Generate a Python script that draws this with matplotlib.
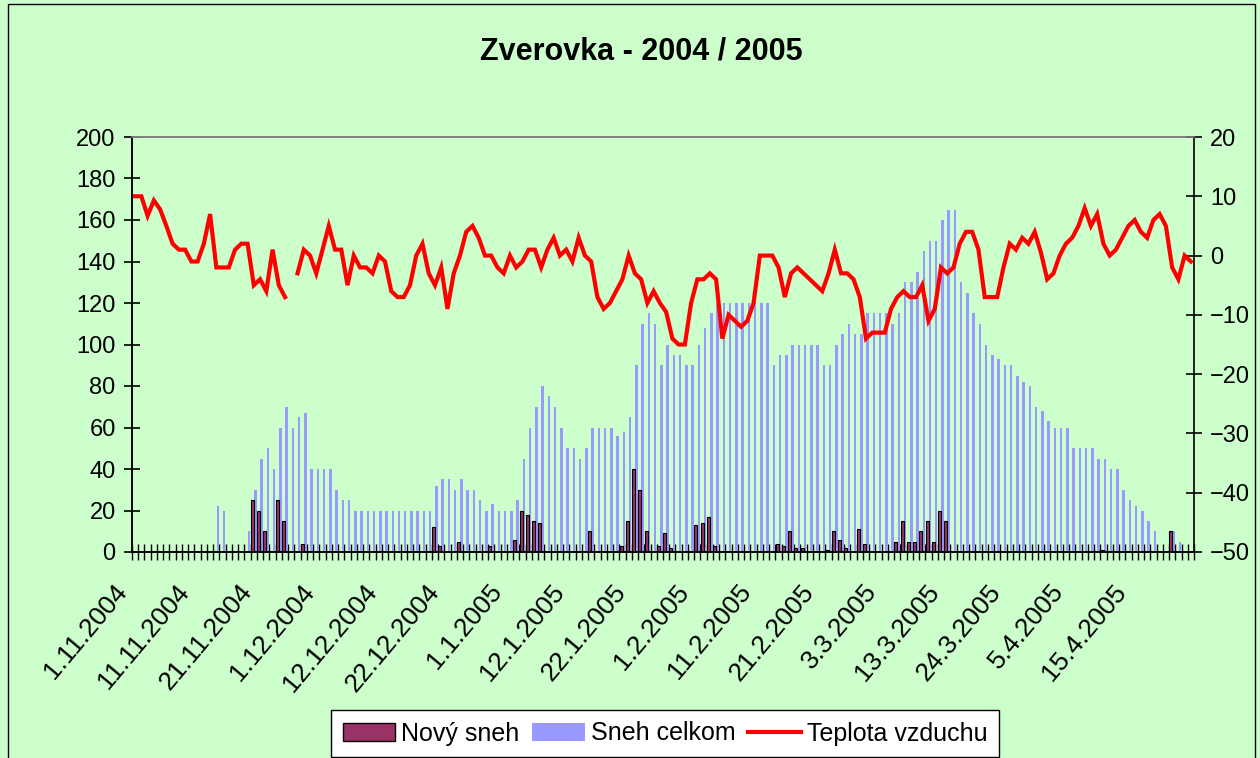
import numpy as np
import matplotlib
matplotlib.use("Agg")
import matplotlib.pyplot as plt
import matplotlib.transforms as mtrans
from matplotlib.patches import Patch, Rectangle
from matplotlib.lines import Line2D

plt.rcParams['font.family'] = ['Liberation Sans', 'DejaVu Sans']

# daily values, 1.11.2004 - end of April 2005 (170 days as in the sheet)
novy_sneh = [0, 0, 0, 0, 0, 0, 0, 0, 0, 0,
             0, 0, 0, 0, 0, 0, 0, 0, 0, 25,
             20, 10, 0, 25, 15, 0, 0, 4, 0, 0,
             0, 0, 0, 0, 0, 0, 0, 0, 0, 0,
             0, 0, 0, 0, 0, 0, 0, 0, 12, 3,
             0, 0, 5, 0, 0, 0, 0, 3, 0, 0,
             0, 6, 20, 18, 15, 14, 0, 0, 0, 0,
             0, 0, 0, 10, 0, 0, 0, 0, 3, 15,
             40, 30, 10, 0, 3, 9, 2, 0, 0, 0,
             13, 14, 17, 3, 0, 0, 0, 0, 0, 0,
             0, 0, 0, 4, 3, 10, 2, 2, 0, 0,
             0, 1, 10, 6, 2, 0, 11, 4, 0, 0,
             0, 0, 5, 15, 5, 5, 10, 15, 5, 20,
             15, 0, 0, 0, 0, 0, 0, 0, 0, 0,
             0, 0, 0, 0, 0, 0, 0, 0, 0, 0,
             0, 0, 0, 0, 0, 1, 0, 0, 0, 0,
             0, 0, 0, 0, 0, 0, 10, 0, 0, 0]

sneh_celkom = [0, 0, 0, 0, 0, 0, 0, 0, 0, 0,
               0, 0, 0, 22, 20, 0, 0, 0, 10, 30,
               45, 50, 40, 60, 70, 60, 65, 67, 40, 40,
               40, 40, 30, 25, 25, 20, 20, 20, 20, 20,
               20, 20, 20, 20, 20, 20, 20, 20, 32, 35,
               35, 30, 35, 30, 30, 25, 20, 23, 20, 20,
               20, 25, 45, 60, 70, 80, 75, 70, 60, 50,
               50, 45, 50, 60, 60, 60, 60, 56, 58, 65,
               90, 110, 115, 110, 90, 100, 95, 95, 90, 90,
               100, 108, 115, 120, 120, 120, 120, 120, 120, 120,
               120, 120, 90, 95, 95, 100, 100, 100, 100, 100,
               90, 90, 100, 105, 110, 105, 105, 115, 115, 115,
               115, 110, 115, 130, 130, 135, 145, 150, 150, 160,
               165, 165, 130, 125, 115, 110, 100, 95, 93, 90,
               90, 85, 82, 80, 70, 68, 63, 60, 60, 60,
               50, 50, 50, 50, 45, 45, 40, 40, 30, 25,
               22, 20, 15, 10, 0, 0, 10, 5, 0, 0]

teplota = [10, 10, 6.7, 9.3, 7.8, 5, 2, 1, 1, -1,
           -1, 2, 7, -2, -2, -2, 1, 2, 2, -5,
           -4, -6, 1, -5, -7, np.nan, -3, 1, 0, -3,
           1, 5, 1, 1, -5, 0, -2, -2, -3, 0,
           -1, -6, -7, -7, -5, 0, 2, -3, -5, -2,
           -9, -3, 0, 4, 5, 3, 0, 0, -2, -3,
           0, -2, -1, 1, 1, -2, 1, 3, 0, 1,
           -1, 3, 0, -1, -7, -9, -8, -6, -4, 0,
           -3, -4, -8, -6, -8, -9.5, -14, -15, -15, -8,
           -4, -4, -3, -4, -14, -10, -11, -12, -11, -8,
           0, 0, 0, -2, -7, -3, -2, -3, -4, -5,
           -6, -3, 1, -3, -3, -4, -7, -14, -13, -13,
           -13, -9, -7, -6, -7, -7, -5, -11, -9, -2,
           -3, -2, 2, 4, 4, 1, -7, -7, -7, -2,
           2, 1, 3, 2, 4, 0.5, -4, -3, 0, 2,
           3, 5, 8, 5, 7, 2, 0, 1, 3, 5,
           6, 4, 3, 6, 7, 5, -2, -4, 0, -1]

date_labels = ['1.11.2004', '11.11.2004', '21.11.2004', '1.12.2004', '12.12.2004',
               '22.12.2004', '1.1.2005', '12.1.2005', '22.1.2005', '1.2.2005',
               '11.2.2005', '21.2.2005', '3.3.2005', '13.3.2005', '24.3.2005',
               '5.4.2005', '15.4.2005']

bg = '#CCFFCC'
W, H = 1260, 758
fig = plt.figure(figsize=(W / 100, H / 100), dpi=100, facecolor=bg)
ax = fig.add_axes([132 / W, 1 - 552 / H, (1194 - 132) / W, (552 - 137) / H])
ax.set_facecolor(bg)

n = len(sneh_celkom)
x = np.arange(n)
ax.bar(x - 0.22, novy_sneh, width=0.48, color='#993366', edgecolor='black', linewidth=0.8, zorder=3)
ax.bar(x + 0.24, sneh_celkom, width=0.40, color='#9999FF', linewidth=0, zorder=2)

ax.set_xlim(-0.5, n - 0.5)
ax.set_ylim(0, 200)
ax.set_yticks(np.arange(0, 201, 20))

ax2 = ax.twinx()
ax2.plot(x, teplota, color='#FF0000', lw=3, solid_joinstyle='miter', zorder=5)
ax2.set_ylim(-50, 20)
ax2.set_yticks(np.arange(-50, 21, 10))
ax2.set_xlim(-0.5, n - 0.5)

for a in (ax, ax2):
    a.spines['top'].set_color('#808080')
    a.spines['top'].set_linewidth(1.2)
    for s in ('left', 'right', 'bottom'):
        a.spines[s].set_color('black')
        a.spines[s].set_linewidth(1.2)
ax.spines['right'].set_visible(False)

ax.tick_params(axis='y', direction='inout', length=11.5, width=1.2, pad=6, labelsize=17)
ax2.tick_params(axis='y', direction='inout', length=11.5, width=1.2, pad=6, labelsize=17)

# category tick marks between days, labels every 10th day
ax.set_xticks(x[::10])
ax.set_xticklabels(date_labels, rotation=50, ha='right', va='top', rotation_mode='anchor', fontsize=19)
ax.tick_params(axis='x', which='major', length=0, pad=20)
ax.set_xticks(np.arange(-0.5, n, 1), minor=True)
ax.tick_params(axis='x', which='minor', direction='inout', length=11.5, width=1)
shift = mtrans.ScaledTranslation(-0.22, 0, fig.dpi_scale_trans)
for lab in ax.get_xticklabels():
    lab.set_transform(lab.get_transform() + shift)

fig.text(641 / W, 1 - 52 / H, 'Zverovka - 2004 / 2005', ha='center', va='center',
         fontsize=22, fontweight='bold')

handles = [Patch(facecolor='#993366', edgecolor='black', linewidth=1),
           Patch(facecolor='#9999FF', linewidth=0),
           Line2D([], [], color='#FF0000', lw=3)]
leg = fig.legend(handles, ['Nový sneh', 'Sneh celkom', 'Teplota vzduchu'],
                 loc='center', bbox_to_anchor=(665 / W, 1 - 733.5 / H), ncol=3,
                 fontsize=18, frameon=True, fancybox=False, edgecolor='black',
                 facecolor='white', framealpha=1, borderpad=0.45,
                 handlelength=2.1, handletextpad=0.25, columnspacing=0.5)
leg.get_frame().set_linewidth(1)

fig.patches.append(Rectangle((8 / W, -0.01), (1255 - 8) / W, 1.005, transform=fig.transFigure,
                             fill=False, edgecolor='black', linewidth=1))

fig.savefig('out.png', dpi=100, facecolor=bg)
